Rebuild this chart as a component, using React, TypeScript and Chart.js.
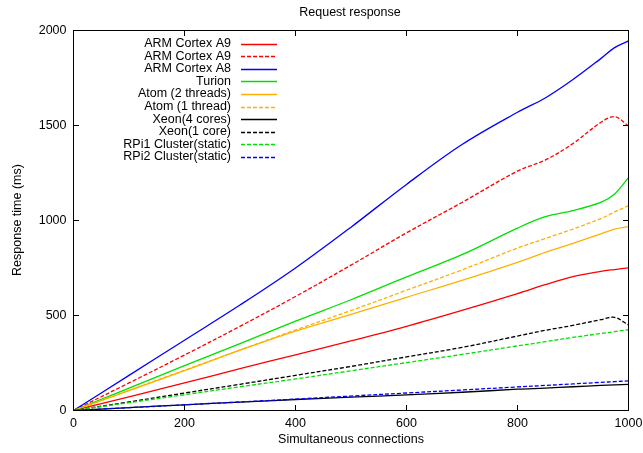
import React, { useEffect, useRef } from "react";
import { Chart, registerables } from "chart.js";

Chart.register(...registerables);

const xValues = [0, 100, 200, 300, 400, 500, 600, 700, 800, 850, 900, 950, 975, 1000];
const armA9 = [0, 72, 145, 220, 293, 366, 443, 527, 615, 662, 705, 732, 742, 751];
const armA9Dashed = [0, 145, 292, 443, 600, 765, 935, 1095, 1260, 1318, 1405, 1516, 1546, 1498];
const armA8 = [0, 185, 370, 555, 750, 965, 1190, 1400, 1570, 1645, 1742, 1852, 1910, 1945];
const turion = [0, 118, 236, 352, 470, 583, 703, 820, 960, 1020, 1052, 1095, 1140, 1226];
const atom2 = [0, 105, 210, 318, 418, 506, 596, 685, 780, 832, 880, 930, 955, 968];
const atom1 = [0, 106, 212, 318, 424, 526, 633, 740, 855, 905, 955, 1010, 1045, 1078];
const xeon4 = [0, 15, 30, 44, 58, 70, 82, 96, 112, 118, 125, 132, 135, 138];
const xeon1 = [0, 45, 92, 138, 185, 232, 282, 332, 392, 422, 448, 478, 490, 450];
const rpi1 = [0, 41, 83, 125, 166, 209, 252, 295, 340, 362, 385, 405, 415, 425];
const rpi2 = [0, 15, 30, 45, 60, 76, 92, 108, 124, 132, 140, 148, 152, 156];

const seriesLabels = [
  "ARM Cortex A9",
  "ARM Cortex A9",
  "ARM Cortex A8",
  "Turion",
  "Atom (2 threads)",
  "Atom (1 thread)",
  "Xeon(4 cores)",
  "Xeon(1 core)",
  "RPi1 Cluster(static)",
  "RPi2 Cluster(static)",
];
const seriesData = [armA9, armA9Dashed, armA8, turion, atom2, atom1, xeon4, xeon1, rpi1, rpi2];
const seriesColors = ["#ff0000", "#ff0000", "#0000ff", "#00e000", "#ffb000", "#ffb000", "#000000", "#000000", "#00e000", "#0000ff"];
const seriesDashed = [false, true, false, false, false, true, false, true, true, true];

const xTicks = [0, 200, 400, 600, 800, 1000];
const yTicks = [0, 500, 1000, 1500, 2000];

const FONT = '"Liberation Sans", Arial, Helvetica, sans-serif';
const FS = 12.5;

const decorPlugin = {
  id: "decor",
  afterDraw(chart: any) {
    const { ctx, scales } = chart;
    const xs = scales.x;
    const ys = scales.y;
    const L = Math.round(xs.getPixelForValue(0) - 0.5);
    const R = Math.round(xs.getPixelForValue(1000) - 0.5);
    const T = Math.round(ys.getPixelForValue(2000) - 0.5);
    const B = Math.round(ys.getPixelForValue(0) - 0.5);
    ctx.save();
    ctx.setLineDash([]);
    ctx.fillStyle = "#000";
    ctx.fillRect(L, T, R - L + 1, 1);
    ctx.fillRect(L, B, R - L + 1, 1);
    ctx.fillRect(L, T, 1, B - T + 1);
    ctx.fillRect(R, T, 1, B - T + 1);
    const tl = 5;
    for (const v of xTicks) {
      const px = Math.round(xs.getPixelForValue(v) - 0.5);
      ctx.fillRect(px, B - tl, 1, tl);
      ctx.fillRect(px, T + 1, 1, tl);
    }
    for (const v of yTicks) {
      const py = Math.round(ys.getPixelForValue(v) - 0.5);
      ctx.fillRect(L + 1, py, tl, 1);
      ctx.fillRect(R - tl, py, tl, 1);
    }

    // legend
    ctx.font = `${FS}px ${FONT}`;
    ctx.fillStyle = "#000";
    ctx.textAlign = "right";
    ctx.textBaseline = "middle";
    seriesLabels.forEach((lab, i) => {
      const y = 43.5 + i * 12.6;
      ctx.fillText(lab, 231, y);
      ctx.beginPath();
      ctx.strokeStyle = seriesColors[i];
      ctx.lineWidth = 1.3;
      ctx.setLineDash(seriesDashed[i] ? [4, 2] : []);
      ctx.moveTo(241, Math.round(y) + 0.5);
      ctx.lineTo(277, Math.round(y) + 0.5);
      ctx.stroke();
    });
    ctx.setLineDash([]);

    // titles
    ctx.fillStyle = "#000";
    ctx.textAlign = "center";
    ctx.fillText("Request response", 350, 12.5);
    ctx.fillText("Simultaneous connections", 351, 440);
    ctx.translate(18, 220);
    ctx.rotate(-Math.PI / 2);
    ctx.fillText("Response time (ms)", 0, 0);
    ctx.restore();
  },
};

export default function App() {
  const ref = useRef<HTMLCanvasElement>(null);
  useEffect(() => {
    if (!ref.current) return;
    const datasets = seriesData.map((arr, i) => ({
      label: seriesLabels[i],
      data: arr.map((y, j) => ({ x: xValues[j], y })),
      borderColor: seriesColors[i],
      borderWidth: 1.3,
      borderDash: seriesDashed[i] ? [4, 2] : [],
      pointRadius: 0,
      fill: false,
      tension: 0.35,
      order: seriesData.length - i,
    }));
    const chart = new Chart(ref.current, {
      type: "line",
      data: { datasets },
      options: {
        responsive: false,
        animation: false,
        devicePixelRatio: 1,
        layout: { padding: { top: 30.5, right: 14.5, left: 0, bottom: 0 } },
        plugins: { legend: { display: false }, title: { display: false }, tooltip: { enabled: false } },
        scales: {
          x: {
            type: "linear",
            min: 0,
            max: 1000,
            afterBuildTicks: (s: any) => {
              s.ticks = xTicks.map((v) => ({ value: v }));
            },
            afterFit: (s: any) => {
              s.height = 42.5;
              s.paddingLeft = 0;
              s.paddingRight = 0;
            },
            grid: { display: false, drawTicks: false },
            border: { display: false },
            ticks: { color: "#000", font: { family: FONT, size: FS }, padding: 6, maxRotation: 0, callback: (v: any) => String(v) },
          },
          y: {
            type: "linear",
            min: 0,
            max: 2000,
            afterBuildTicks: (s: any) => {
              s.ticks = yTicks.map((v) => ({ value: v }));
            },
            afterFit: (s: any) => {
              s.width = 73.5;
              s.paddingTop = 0;
              s.paddingBottom = 0;
            },
            grid: { display: false, drawTicks: false },
            border: { display: false },
            ticks: { color: "#000", font: { family: FONT, size: FS }, padding: 7, callback: (v: any) => String(v) },
          },
        },
      },
      plugins: [decorPlugin],
    });
    return () => chart.destroy();
  }, []);
  return (
    <div style={{ position: "absolute", left: 0, top: 0, width: 643, height: 453, background: "#fff" }}>
      <canvas ref={ref} width={643} height={453} style={{ display: "block" }} />
    </div>
  );
}
